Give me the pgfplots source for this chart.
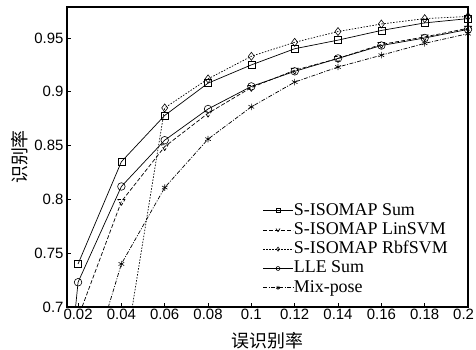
\documentclass[border=0pt]{standalone}
\usepackage{pgfplots}
\pgfplotsset{compat=1.18}
\usepackage{fontspec}
\setmainfont{Liberation Serif}
\newfontfamily\arial{Liberation Sans}
\newfontfamily\cjk{Noto Sans CJK SC}
\begin{document}
\begin{tikzpicture}
\begin{axis}[
  at={(67bp,43bp)}, anchor=south west,
  scale only axis, width=401bp, height=300bp,
  xmin=0.0149, xmax=0.2, ymin=0.7, ymax=0.9788,
  xtick={0.02,0.04,0.06,0.08,0.1,0.12,0.14,0.16,0.18,0.2},
  xticklabels={0.02,0.04,0.06,0.08,0.1,0.12,0.14,0.16,0.18,\makebox[12bp][r]{0.2}},
  ytick={0.7,0.75,0.8,0.85,0.9,0.95},
  yticklabels={0.7,0.75,0.8,0.85,0.9,0.95},
  xtick pos=left, ytick pos=left, tick align=inside,
  major tick length=4bp,
  tick style={black, line width=0.8bp},
  axis line style={line width=1.1bp},
  /pgf/number format/assume math mode=true,
  tick label style={font=\arial\fontsize{15}{16}\selectfont},
  xticklabel style={yshift=1bp},
  xlabel={\cjk\fontsize{18}{18}\selectfont 误识别率},
  ylabel={\cjk\fontsize{18}{18}\selectfont 识别率},
  xlabel style={yshift=-5bp},
  legend style={at={(0.4875,0.352)}, anchor=north west, draw=none, fill=none,
    font=\fontsize{18}{18}\selectfont,
    row sep=1.3bp, inner sep=0bp, nodes={inner sep=0.5bp, text height=13bp, text depth=4bp}},
  legend cell align=left,
  legend image code/.code={\draw[#1, mark size=2bp] (0bp,0bp) -- (15bp,0bp) -- (30bp,0bp); \path[#1, mark size=2bp] plot coordinates {(15bp,0bp)};},
  every axis plot/.append style={line width=0.7bp, black, mark options={solid, line width=0.6bp}},
]
\addplot[solid, mark=square, mark size=3.5bp] coordinates {(0.02,0.740)(0.04,0.835)(0.06,0.878)(0.08,0.908)(0.1,0.925)(0.12,0.940)(0.14,0.948)(0.16,0.957)(0.18,0.964)(0.2,0.968)};
\addlegendentry{S-ISOMAP Sum}
\addplot[dash pattern=on 4bp off 2bp, mark=triangle, mark size=4bp, mark options={rotate=180}] coordinates {(0.02,0.690)(0.04,0.798)(0.06,0.849)(0.08,0.880)(0.1,0.904)(0.12,0.920)(0.14,0.931)(0.16,0.944)(0.18,0.951)(0.2,0.959)};
\addlegendentry{S-ISOMAP LinSVM}
\addplot[dash pattern=on 1.5bp off 1.5bp, mark=diamond, mark size=4bp] coordinates {(0.02,0.600)(0.04,0.638)(0.06,0.885)(0.08,0.912)(0.1,0.933)(0.12,0.946)(0.14,0.956)(0.16,0.963)(0.18,0.968)(0.2,0.970)};
\addlegendentry{S-ISOMAP RbfSVM}
\addplot[solid, mark=o, mark size=3.8bp] coordinates {(0.01,0.520)(0.02,0.723)(0.04,0.812)(0.06,0.855)(0.08,0.884)(0.1,0.905)(0.12,0.919)(0.14,0.931)(0.16,0.943)(0.18,0.950)(0.2,0.958)};
\addlegendentry{LLE Sum}
\addplot[dash pattern=on 4bp off 1.5bp on 1bp off 1.5bp, mark=asterisk, mark size=3.2bp] coordinates {(0.02,0.607)(0.04,0.740)(0.06,0.811)(0.08,0.856)(0.1,0.886)(0.12,0.909)(0.14,0.923)(0.16,0.934)(0.18,0.945)(0.2,0.954)};
\addlegendentry{Mix-pose}
\end{axis}
\pgfresetboundingbox
\path (0,0) rectangle (476bp,350bp);
\end{tikzpicture}
\end{document}
